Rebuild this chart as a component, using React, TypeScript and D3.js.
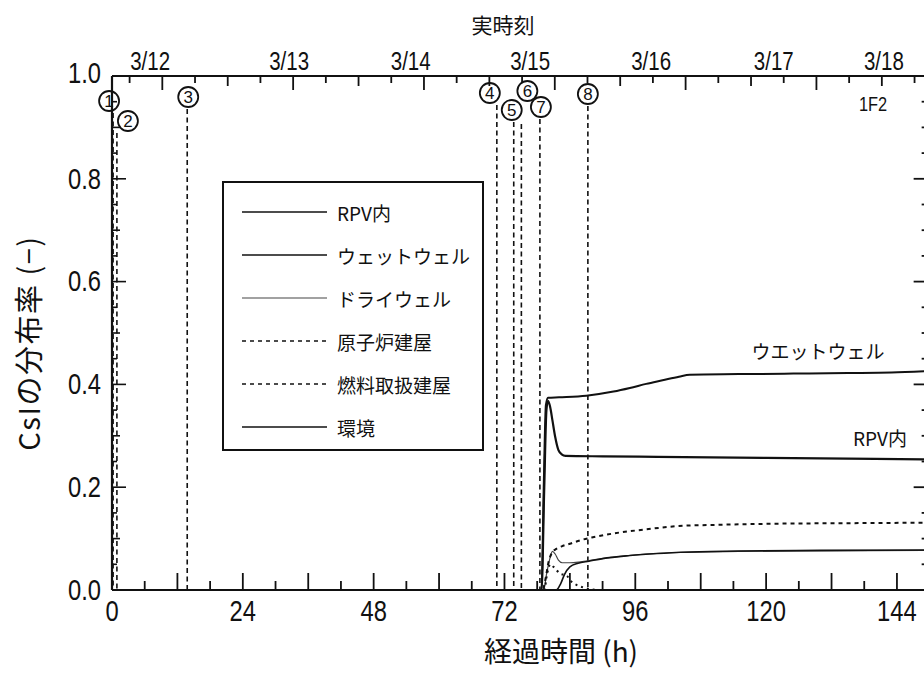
import React from 'react';
import * as d3 from 'd3';

// ---- data (hours since accident, distribution fraction) ----
const rpvHours = [0, 78.8, 79.3, 79.7, 80.0, 80.4, 80.8, 81.3, 81.9, 82.5, 83.2, 90, 100, 120, 140, 150];
const rpvValues = [0, 0, 0.2, 0.35, 0.368, 0.355, 0.33, 0.298, 0.272, 0.264, 0.261, 0.26, 0.259, 0.257, 0.255, 0.254];

const wetwellHours = [0, 78.8, 79.2, 79.6, 80.0, 82, 87, 92, 95, 98, 101, 104, 106, 115, 125, 135, 143, 150];
const wetwellValues = [0, 0, 0.2, 0.36, 0.374, 0.375, 0.378, 0.386, 0.393, 0.401, 0.408, 0.415, 0.419, 0.42, 0.421, 0.422, 0.423, 0.426];

const drywellHours = [0, 79.2, 79.7, 80.3, 80.8, 81.3, 81.9, 82.6, 84, 86, 88, 92, 98, 104, 115, 130, 150];
const drywellValues = [0, 0, 0.03, 0.06, 0.075, 0.07, 0.058, 0.053, 0.053, 0.055, 0.058, 0.064, 0.07, 0.073, 0.075, 0.076, 0.077];

const reactorBldgHours = [0, 79, 79.5, 80.1, 80.7, 81.5, 82.5, 84, 86, 88, 92, 98, 104, 112, 122, 135, 150];
const reactorBldgValues = [0, 0, 0.02, 0.055, 0.072, 0.08, 0.085, 0.09, 0.097, 0.102, 0.11, 0.118, 0.1245, 0.127, 0.129, 0.13, 0.131];

const fuelBldgHours = [0, 79.3, 79.8, 80.4, 81, 82.2, 83.4, 84.3, 85.2, 86.4, 88, 90, 150];
const fuelBldgValues = [0, 0, 0.03, 0.05, 0.045, 0.032, 0.028, 0.016, 0.01, 0.005, 0.001, 0, 0];

const envHours = [0, 81.5, 82.3, 83, 84, 85.5, 87.5, 90, 95, 100, 106, 115, 130, 150];
const envValues = [0, 0, 0.012, 0.03, 0.045, 0.052, 0.056, 0.061, 0.067, 0.071, 0.074, 0.076, 0.077, 0.078];

const seriesNames = ['RPV内', 'ウェットウェル', 'ドライウェル', '原子炉建屋', '燃料取扱建屋', '環境'];

const xTickLabels = [0, 24, 48, 72, 96, 120, 144];
const yTickLabels = [0.0, 0.2, 0.4, 0.6, 0.8, 1.0];

const dateLabels = ['3/12', '3/13', '3/14', '3/15', '3/16', '3/17', '3/18'];
const dateLabelHours = [7.0, 32.5, 54.8, 76.7, 98.9, 121.4, 141.6];
const midnightStartHour = 9.23; // 3/12 0:00 relative to 3/11 14:46

const eventHours = [0.2, 0.9, 13.8, 70.6, 73.7, 75.1, 78.5, 87.3];
const eventNumbers = ['1', '2', '3', '4', '5', '6', '7', '8'];

// ---- layout (positions/styles) ----
const W = 924;
const H = 673;
const L = 112;
const PX_PER_H = 5.451;
const TOP = 76;
const BOT = 590;
const X_MAX = 150;

const eventLabelOffsets = [
  [-4, 101], [11, 121], [1, 97], [-7, 93], [-2, 110], [6, 91], [1, 107], [0, 94],
];
const eventLineStarts = [113, 133, 109, 105, 122, 124, 119, 106];

const seriesStyles = [
  { w: 2.2, dash: null, color: '#111' },
  { w: 2.0, dash: null, color: '#111' },
  { w: 1.2, dash: null, color: '#444' },
  { w: 2.0, dash: '4 4', color: '#111' },
  { w: 2.0, dash: '2 4', color: '#111' },
  { w: 1.6, dash: null, color: '#111' },
];

const NUM_FONT = '"Liberation Sans", Arial, sans-serif';
const JP_FONT = '"Noto Sans CJK JP", "Noto Sans", sans-serif';

function NT({ x, y, children, anchor = 'middle', size = 29 }: any) {
  return (
    <text
      transform={`translate(${x},${y}) scale(0.82,1)`}
      textAnchor={anchor}
      dominantBaseline="central"
      fontFamily={NUM_FONT}
      fontSize={size}
      fill="#111"
    >
      {children}
    </text>
  );
}

export default function App() {
  const x = d3.scaleLinear().domain([0, X_MAX]).range([L, L + X_MAX * PX_PER_H]);
  const y = d3.scaleLinear().domain([0, 1]).range([BOT, TOP]);
  const xr = x(X_MAX);

  const series = [
    [rpvHours, rpvValues],
    [wetwellHours, wetwellValues],
    [drywellHours, drywellValues],
    [reactorBldgHours, reactorBldgValues],
    [fuelBldgHours, fuelBldgValues],
    [envHours, envValues],
  ];

  const line = d3
    .line<[number, number]>()
    .x((d) => x(d[0]))
    .y((d) => y(d[1]))
    .curve(d3.curveMonotoneX);

  const bottomTicks = d3.range(6, X_MAX + 0.01, 6);
  const topTicks: number[] = [];
  for (let h = midnightStartHour - 6; h <= X_MAX; h += 6) if (h > 0.5) topTicks.push(h);
  const yMinor = d3.range(0.05, 1.0, 0.05);

  const legendRows = seriesNames.map((n, i) => ({ n, i, yy: 212 + i * 43 }));

  return (
    <div style={{ position: 'absolute', left: 0, top: 0 }}>
      <svg width={W} height={H} viewBox={`0 0 ${W} ${H}`} style={{ display: 'block', background: '#fff' }}>
        <rect x={0} y={0} width={W} height={H} fill="#fff" />

        {/* event lines with circled numbers */}
        {eventHours.map((h, i) => {
          const cx = x(h) + eventLabelOffsets[i][0];
          const cy = eventLabelOffsets[i][1];
          return (
            <g key={'ev' + i}>
              <line
                x1={x(h)}
                x2={x(h)}
                y1={eventLineStarts[i]}
                y2={BOT}
                stroke="#111"
                strokeWidth={1.6}
                strokeDasharray="5 3.5"
              />
              <circle cx={cx} cy={cy} r={10} fill="#fff" stroke="#111" strokeWidth={1.8} />
              <text
                x={cx}
                y={cy + 0.5}
                textAnchor="middle"
                dominantBaseline="central"
                fontFamily={NUM_FONT}
                fontSize={17}
                fill="#111"
              >
                {eventNumbers[i]}
              </text>
            </g>
          );
        })}

        {/* data series */}
        {series.map(([hs, vs], i) => {
          const pts = (hs as number[]).map((h, k) => [h, (vs as number[])[k]] as [number, number]);
          const st = seriesStyles[i];
          return (
            <path
              key={'s' + i}
              d={line(pts) || ''}
              fill="none"
              stroke={st.color}
              strokeWidth={st.w}
              strokeDasharray={st.dash || undefined}
              strokeLinejoin="round"
            />
          );
        })}

        {/* axes frame */}
        <line x1={L} x2={xr} y1={BOT} y2={BOT} stroke="#111" strokeWidth={2.2} />
        <line x1={L} x2={xr} y1={TOP} y2={TOP} stroke="#111" strokeWidth={2.2} />
        <line x1={L} x2={L} y1={TOP} y2={BOT} stroke="#111" strokeWidth={2.2} />
        <line x1={xr} x2={xr} y1={TOP} y2={BOT} stroke="#111" strokeWidth={2} />

        {bottomTicks.map((h) => {
          const long = Math.round(h) % 12 === 0;
          return (
            <line key={'bt' + h} x1={x(h)} x2={x(h)} y1={BOT} y2={BOT - (long ? 17 : 9)} stroke="#111" strokeWidth={1.8} />
          );
        })}
        {topTicks.map((h, i) => {
          const k = Math.round((h - midnightStartHour) / 6);
          const mod = ((k % 4) + 4) % 4;
          const len = mod === 0 ? 14 : mod === 2 ? 10 : 7;
          return <line key={'tt' + i} x1={x(h)} x2={x(h)} y1={TOP} y2={TOP + len} stroke="#111" strokeWidth={1.8} />;
        })}
        {yMinor.map((v, i) => {
          const r = Math.round(v * 100);
          const len = r % 20 === 0 ? 14 : r % 10 === 0 ? 8 : 5;
          return (
            <g key={'yt' + i}>
              <line x1={L} x2={L + len} y1={y(v)} y2={y(v)} stroke="#111" strokeWidth={1.6} />
              <line x1={xr} x2={xr - (r % 20 === 0 ? 16 : 8)} y1={y(v)} y2={y(v)} stroke="#111" strokeWidth={1.8} />
            </g>
          );
        })}

        {/* tick labels */}
        {yTickLabels.map((v) => (
          <NT key={'yl' + v} x={101} y={y(v) - (v === 1 ? 3 : 0)} anchor="end">
            {v.toFixed(1)}
          </NT>
        ))}
        {xTickLabels.map((h) => (
          <NT key={'xl' + h} x={x(h)} y={611}>
            {String(h)}
          </NT>
        ))}
        {dateLabels.map((d, i) => (
          <NT key={'dl' + i} x={x(dateLabelHours[i])} y={61} size={25}>
            {d}
          </NT>
        ))}

        {/* axis titles */}
        <text x={503} y={24} textAnchor="middle" dominantBaseline="central" fontFamily={JP_FONT} fontSize={21} fill="#111">
          実時刻
        </text>
        <text x={561} y={650} textAnchor="middle" dominantBaseline="central" fontFamily={JP_FONT} fontSize={28} fill="#111">
          経過時間 (h)
        </text>
        <text
          transform="translate(27,343) rotate(-90)"
          textAnchor="middle"
          dominantBaseline="central"
          fontFamily={JP_FONT}
          fontSize={29}
          letterSpacing={1.5}
          fill="#111"
        >
          CsIの分布率 (−)
        </text>

        {/* annotations */}
        <NT x={873} y={104} size={20}>
          1F2
        </NT>
        <text x={818} y={350} textAnchor="middle" dominantBaseline="central" fontFamily={JP_FONT} fontSize={19} fill="#111">
          ウエットウェル
        </text>
        <text x={853} y={437} textAnchor="start" dominantBaseline="central" fontFamily={JP_FONT} fontSize={19} fill="#111">
          RPV内
        </text>

        {/* legend */}
        <rect x={223} y={182} width={260} height={268} fill="#fff" stroke="#111" strokeWidth={2} />
        {legendRows.map(({ n, i, yy }) => {
          const st = seriesStyles[i];
          return (
            <g key={'lg' + i}>
              <line
                x1={242}
                x2={327}
                y1={yy}
                y2={yy}
                stroke={st.color}
                strokeWidth={Math.min(st.w, 1.6)}
                strokeDasharray={st.dash ? '4 4' : undefined}
              />
              <text x={337} y={yy} dominantBaseline="central" fontFamily={JP_FONT} fontSize={19} fill="#111">
                {n}
              </text>
            </g>
          );
        })}
      </svg>
    </div>
  );
}
